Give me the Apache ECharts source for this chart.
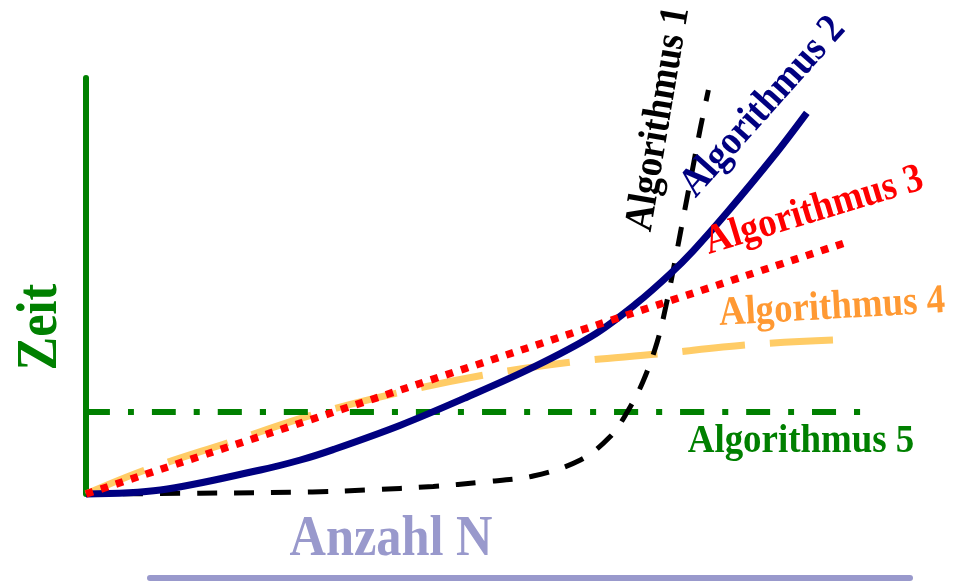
<!DOCTYPE html>
<html><head><meta charset="utf-8">
<script src="https://cdn.jsdelivr.net/npm/echarts@6/dist/echarts.min.js"></script>
<style>html,body{margin:0;padding:0;background:#fff}#c{width:958px;height:581px}</style>
</head><body><div id="c"></div>
<script>
// Names of the five algorithms
const algNames = ['Algorithmus 1', 'Algorithmus 2', 'Algorithmus 3', 'Algorithmus 4', 'Algorithmus 5'];
// Axis titles
const xTitle = 'Anzahl N';
const yTitle = 'Zeit';
// [N, Zeit] values (abstract units)
const alg1 = [[0,0],[1.43,0.02],[2.83,0.05],[3.51,0.1],[4.34,0.19],[4.96,0.3],[5.59,0.45],[6.18,0.85],[6.55,1.43],[6.76,2.03],[6.96,2.8],[7.14,3.8],[7.26,4.8],[7.36,5.8],[7.47,6.95],[7.58,8.1],[7.68,9.15],[7.78,10.1]];
const alg2 = [[0,0],[0.93,0.1],[2.18,0.6],[2.68,0.85],[3.09,1.11],[3.93,1.72],[4.76,2.42],[5.59,3.17],[6.34,3.97],[6.89,4.78],[7.3,5.5],[7.59,6.08],[8.01,7.03],[8.59,8.43],[9.01,9.53]];
const alg3 = [[0,0],[9.49,6.28]];
const alg4 = [[0,0],[0.74,0.6],[1.8,1.3],[2.83,1.98],[3.9,2.53],[4.99,2.98],[6.08,3.3],[7.15,3.5],[8.26,3.73],[9.36,3.85]];
const alg5 = [[0,2.05],[9.71,2.05]];

const serif = '"Liberation Serif","Times New Roman",serif';
function label(text, x, y, deg, color, size) {
  return {
    type: 'text', x: x, y: y, rotation: deg * Math.PI / 180, scaleX: 0.9, z: 100,
    style: {
      text: text, fill: color, font: 'bold ' + size + 'px ' + serif,
      textAlign: 'center', textVerticalAlign: 'middle', align: 'center', verticalAlign: 'middle'
    }
  };
}

const chart = echarts.init(document.getElementById('c'), null, {renderer: 'canvas'});
const hiddenAxis = {
  axisLine: {show: false}, axisTick: {show: false}, axisLabel: {show: false}, splitLine: {show: false}
};
function lineSeries(name, data, color, width, type, z) {
  return {
    name: name, type: 'line', data: data, xAxisIndex: 0, yAxisIndex: 0,
    symbol: 'none', showSymbol: false, clip: false, smooth: 0.35,
    lineStyle: {color: color, width: width, type: type, cap: 'butt'}, z: z,
    animation: false
  };
}
chart.setOption({
  animation: false,
  backgroundColor: '#ffffff',
  grid: [
    {left: 86, right: 72, top: 78, bottom: 87},
    {left: 150, right: 48, top: 560, bottom: 3}
  ],
  xAxis: [
    Object.assign({type: 'value', gridIndex: 0, min: 0, max: 10}, hiddenAxis),
    Object.assign({type: 'value', gridIndex: 1, min: 0, max: 10}, hiddenAxis, {
      axisLine: {show: true, lineStyle: {color: '#9999CC', width: 6}}
    })
  ],
  yAxis: [
    Object.assign({type: 'value', gridIndex: 0, min: 0, max: 10.4}, hiddenAxis, {
      axisLine: {show: true, lineStyle: {color: '#008000', width: 6}}
    }),
    Object.assign({type: 'value', gridIndex: 1, min: 0, max: 1}, hiddenAxis)
  ],
  series: [
    lineSeries(algNames[3], alg4, '#FFCC66', 7, [63, 25], 2),
    lineSeries(algNames[4], alg5, '#008000', 6, [24, 18, 6, 18], 3),
    lineSeries(algNames[0], alg1, '#000000', 5, [20, 17], 4),
    lineSeries(algNames[1], alg2, '#000080', 7, 'solid', 5),
    lineSeries(algNames[2], alg3, '#FF0000', 7.5, [7.5, 8.3], 6)
  ],
  graphic: [
    label(algNames[0], 659, 119, 80.4, '#000000', 41),
    label(algNames[1], 763, 107, 48.2, '#000080', 41),
    label(algNames[2], 814, 211, 16.8, '#FF0000', 41),
    label(algNames[3], 832, 308, 3.3, '#FF9933', 41),
    label(algNames[4], 801, 441, 0, '#008000', 41),
    label(xTitle, 391, 541, 0, '#9999CC', 56),
    label(yTitle, 42, 327, 90, '#008000', 56)
  ]
});
</script>
</body></html>
